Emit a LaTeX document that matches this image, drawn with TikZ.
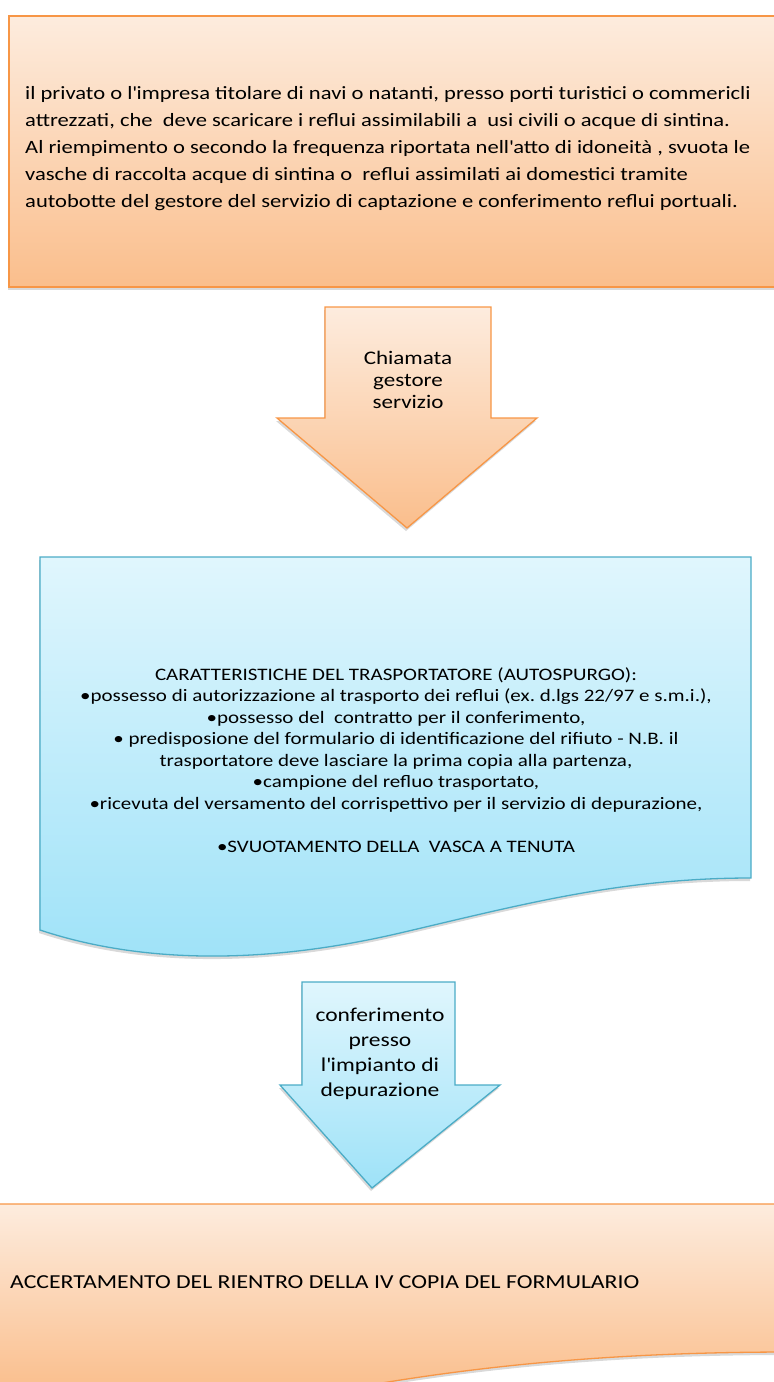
\documentclass[tikz,border=0pt]{standalone}
\usepackage{fontspec}
\setmainfont{Carlito}[FakeStretch=1.2]
\usetikzlibrary{shadows}
\frenchspacing

\definecolor{orangetop}{RGB}{253,236,222}
\definecolor{orangebot}{RGB}{250,190,140}
\definecolor{orangeline}{RGB}{247,150,70}
\definecolor{bluetop}{RGB}{224,246,253}
\definecolor{bluebot}{RGB}{158,226,248}
\definecolor{blueline}{RGB}{75,172,198}

\tikzset{
	orangebox/.style={draw=orangeline, line width=1.3pt, top color=orangetop, bottom color=orangebot},
	bluebox/.style={draw=blueline, line width=1.3pt, top color=bluetop, bottom color=bluebot},
	shade/.style={drop shadow={shadow xshift=-1pt, shadow yshift=-3pt, opacity=.3}},
	txt/.style={inner sep=0pt, text=black}
}
\newcommand{\ap}{\textquotesingle}

\begin{document}
\begin{tikzpicture}[x=1pt,y=-1pt]
	\useasboundingbox (0,0) rectangle (774,1382);
	% richiesta
	\path[orangebox, shade] (9,16) rectangle (790,287);
	\node[txt, anchor=west, align=left, font=\fontsize{18.8}{27}\selectfont] (privato) at (25,149)
	{il privato o l\ap impresa titolare di navi o natanti, presso porti turistici o commericli\\
	attrezzati, che\ \ deve scaricare i reflui assimilabili a\ \ usi civili o acque di sintina.\\
	Al riempimento o secondo la frequenza riportata nell\ap atto di idoneità , svuota le\\
	vasche di raccolta acque di sintina o\ \ reflui assimilati ai domestici tramite\\
	autobotte del gestore del servizio di captazione e conferimento reflui portuali.};
	% freccia 1
	\path[orangebox, shade] (325,307) -- (491,307) -- (491,418) -- (537,418) -- (407,528)
		-- (277,418) -- (325,418) -- cycle;
	\node[txt, align=center, font=\fontsize{19.2}{22}\selectfont] (chiamata) at (408,380)
	{Chiamata\\gestore\\servizio};
	% trasportatore
	\path[bluebox, shade] (40,557) -- (751,557) -- (751,878)
		.. controls (620,878) and (520,905) .. (400,933)
		.. controls (250,968) and (130,960) .. (40,930) -- cycle;
	\node[txt, align=center, font=\fontsize{17.5}{21.5}\selectfont] (autospurgo) at (396,760)
	{CARATTERISTICHE DEL TRASPORTATORE (AUTOSPURGO):\\
	•possesso di autorizzazione al trasporto dei reflui (ex. d.lgs 22/97 e s.m.i.),\\
	•possesso del\ \ contratto per il conferimento,\\
	• predisposione del formulario di identificazione del rifiuto - N.B. il\\
	trasportatore deve lasciare la prima copia alla partenza,\\
	•campione del refluo trasportato,\\
	•ricevuta del versamento del corrispettivo per il servizio di depurazione,\\[21.5pt]
	•SVUOTAMENTO DELLA\ \ VASCA A TENUTA};
	% freccia 2
	\path[bluebox, shade] (302,982) -- (455,982) -- (455,1085) -- (500,1085) -- (372,1188)
		-- (280,1085) -- (302,1085) -- cycle;
	\node[txt, align=center, font=\fontsize{19.6}{25}\selectfont] (conferimento) at (380,1054)
	{conferimento\\presso\\l\ap impianto di\\depurazione};
	% accertamento
	\path[orangebox, shade] (-5,1204) -- (790,1204) -- (790,1352)
		.. controls (600,1352) and (460,1368) .. (330,1392) -- (-5,1392) -- cycle;
	\node[txt, anchor=west, font=\fontsize{19.8}{24}\selectfont] (accertamento) at (10,1282)
	{ACCERTAMENTO DEL RIENTRO DELLA IV COPIA DEL FORMULARIO};
\end{tikzpicture}
\end{document}
